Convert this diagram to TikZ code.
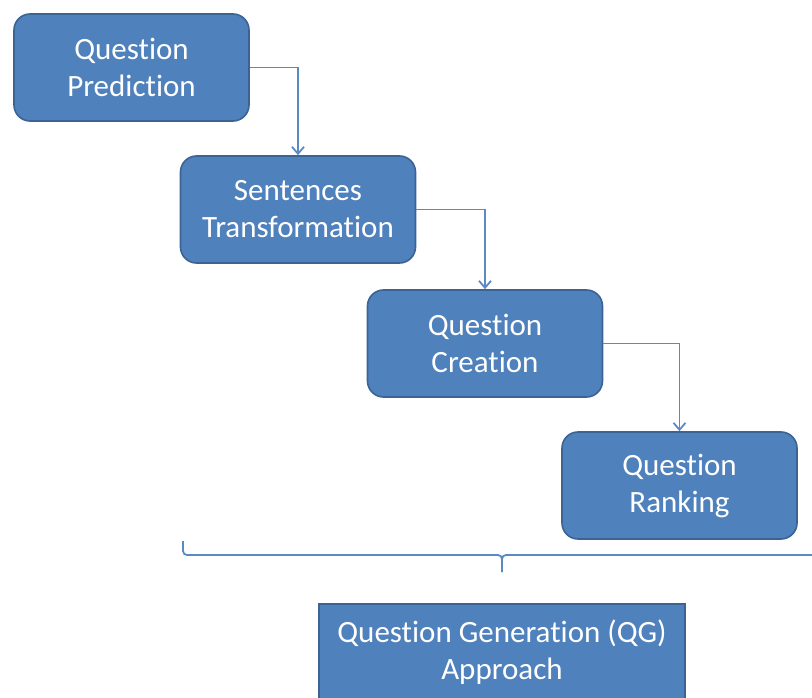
\documentclass[tikz,border=0pt]{standalone}
\usepackage{fontspec}
\setmainfont{Carlito}[Ligatures=NoCommon]
\usetikzlibrary{arrows.meta}
\definecolor{boxfill}{HTML}{4F81BD}
\definecolor{boxline}{HTML}{3B6393}
\definecolor{linkline}{HTML}{5A8AC6}

\tikzset{
Stage/.style={draw=boxline, fill=boxfill, rounded corners=16pt, inner
        sep=0pt, minimum width=235pt, minimum height=107pt, text=white,
        align=center, font=\fontsize{31}{37}\selectfont, line width=1.6pt},
Result/.style={Stage, rounded corners=0pt, minimum width=366pt, minimum height=96pt},
StageLink/.style={arrows={-Straight Barb[length=7pt,width=12pt]},draw=linkline,line width=1.8pt},
BraceLine/.style={draw=linkline,line width=1.8pt,rounded corners=4pt},
}

\begin{document}
\begin{tikzpicture}[x=1pt,y=-1pt]
	\useasboundingbox (0,0) rectangle (812,698);
	\node[Stage] (S1) at (131.5,67.5) {Question\\Prediction};
	\node[Stage] (S2) at (298,209.5) {Sentences\\Transformation};
	\node[Stage] (S3) at (485,343.5) {Question\\Creation};
	\node[Stage] (S4) at (679.5,485.5) {Question\\Ranking};
	\foreach \from/\to in {S1/S2,S2/S3,S3/S4}
		\draw[StageLink] (\from.east) -| (\to.north);

	% brace over the four stages
	\coordinate (BL) at (183,541);
	\coordinate (BR) at (821,541);
	\coordinate (BM) at (502,555);
	\coordinate (BT) at (502,572);
	\draw[BraceLine] (BL) |- (BM) -- (BT);
	\draw[BraceLine] (BR) |- (BM) -- (BT);

	\node[Result] (QG) at (502,652) {Question Generation (QG)\\Approach};
\end{tikzpicture}
\end{document}
